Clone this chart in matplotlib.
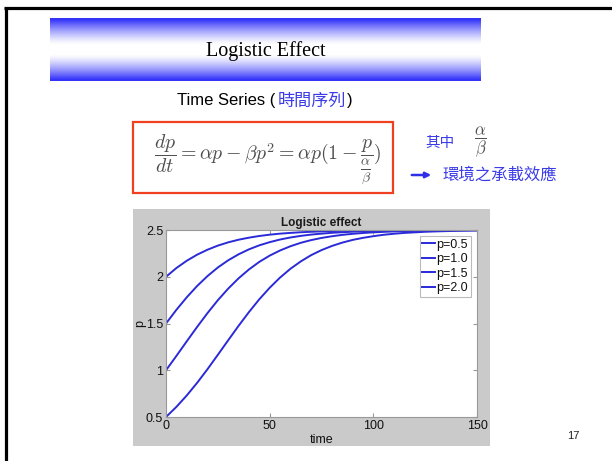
import numpy as np
import matplotlib
matplotlib.use("Agg")
import matplotlib.pyplot as plt
from matplotlib.patches import Rectangle, FancyArrowPatch
from matplotlib.lines import Line2D

plt.rcParams['mathtext.fontset'] = 'cm'

# ---- data -------------------------------------------------------------
time = [0, 5, 10, 15, 20, 25, 30, 35, 40, 45, 50, 55, 60, 65, 70, 75, 80,
        85, 90, 95, 100, 105, 110, 115, 120, 125, 130, 135, 140, 145, 150]

p_05 = [0.500, 0.608, 0.730, 0.865, 1.011, 1.165, 1.321, 1.475, 1.622, 1.759,
        1.882, 1.991, 2.085, 2.164, 2.231, 2.285, 2.329, 2.365, 2.394, 2.416,
        2.434, 2.449, 2.460, 2.469, 2.475, 2.481, 2.485, 2.488, 2.491, 2.493,
        2.495]
p_10 = [1.000, 1.153, 1.309, 1.463, 1.611, 1.749, 1.873, 1.983, 2.078, 2.159,
        2.226, 2.281, 2.326, 2.363, 2.392, 2.415, 2.433, 2.448, 2.459, 2.468,
        2.475, 2.480, 2.485, 2.488, 2.491, 2.493, 2.494, 2.496, 2.497, 2.497,
        2.498]
p_15 = [1.500, 1.646, 1.780, 1.901, 2.007, 2.099, 2.176, 2.240, 2.293, 2.336,
        2.370, 2.398, 2.420, 2.437, 2.451, 2.461, 2.470, 2.476, 2.482, 2.486,
        2.489, 2.491, 2.493, 2.495, 2.496, 2.497, 2.498, 2.498, 2.498, 2.499,
        2.499]
p_20 = [2.000, 2.093, 2.171, 2.236, 2.289, 2.333, 2.368, 2.396, 2.418, 2.436,
        2.450, 2.461, 2.469, 2.476, 2.481, 2.485, 2.489, 2.491, 2.493, 2.495,
        2.496, 2.497, 2.497, 2.498, 2.498, 2.499, 2.499, 2.499, 2.500, 2.500,
        2.500]

series = [p_05, p_10, p_15, p_20]
labels = ['p=0.5', 'p=1.0', 'p=1.5', 'p=2.0']
xticks = [0, 50, 100, 150]
yticks = [0.5, 1, 1.5, 2, 2.5]
ytick_labels = ['0.5', '1', '1.5', '2', '2.5']

# ---- figure -----------------------------------------------------------
W, H = 612, 461
fig = plt.figure(figsize=(W / 100, H / 100), dpi=100)
fig.patch.set_facecolor('white')


def fx(x):
    return x / W


def fy(y):
    return 1 - y / H


def box(x0, y0, x1, y1):
    return [fx(x0), fy(y1), fx(x1) - fx(x0), fy(y0) - fy(y1)]


# slide frame
fig.add_artist(Line2D([fx(4), fx(612)], [fy(8.5), fy(8.5)], color='black',
                      lw=2.3, transform=fig.transFigure, solid_capstyle='butt'))
fig.add_artist(Line2D([fx(5.5), fx(5.5)], [fy(7.5), fy(461)], color='black',
                      lw=2.3, transform=fig.transFigure, solid_capstyle='butt'))

# title banner with vertical blue-white-blue gradient
ban = fig.add_axes(box(50, 18, 481, 81))
ban.set_axis_off()
v = np.linspace(0, 1, 200)
b = np.clip(np.abs(2 * v - 1) * 1.25 - 0.2, 0, 1) ** 1.3
blue = np.array([0.20, 0.20, 0.98])
grad = (1 - b)[:, None] * np.ones(3) + b[:, None] * blue
ban.imshow(np.repeat(grad[:, None, :], 2, axis=1), aspect='auto',
           extent=[0, 1, 0, 1], interpolation='bilinear')
ban.set_xlim(0, 1)
ban.set_ylim(0, 1)
ban.text(0.5, 0.47, 'Logistic Effect', ha='center', va='center',
         fontsize=14.5, family='Liberation Serif', color='black')

# subtitle with mixed colours
renderer = fig.canvas.get_renderer()
cjk = ['Noto Sans CJK TC', 'DejaVu Sans']
t1 = fig.text(fx(177), fy(101), 'Time Series (', ha='left', va='center',
              fontsize=12, family='Liberation Sans', color='black')
x_next = t1.get_window_extent(renderer).x1 + 2
t2 = fig.text(x_next / W, fy(101), '時間序列', ha='left', va='center',
              fontsize=12.3, family=cjk, color='#3b3be8')
x_next = t2.get_window_extent(renderer).x1 + 1
fig.text(x_next / W, fy(101), ')', ha='left', va='center',
         fontsize=12, family='Liberation Sans', color='black')

# equation box
fig.add_artist(Rectangle((fx(133), fy(193)), fx(393) - fx(133),
                         fy(122) - fy(193), transform=fig.transFigure,
                         fill=False, edgecolor='#f04020', lw=1.6))
fig.text(fx(268), fy(160),
         r'$\dfrac{dp}{dt} = \alpha p - \beta p^2 = \alpha p(1 - \dfrac{p}{\frac{\alpha}{\beta}})$',
         ha='center', va='center', fontsize=14.3, color='#4f4f4f')

# side note
fig.text(fx(425), fy(143), '其中', ha='left', va='center', fontsize=10.5,
         family=cjk, color='#3b3be8')
fig.text(fx(480), fy(142), r'$\dfrac{\alpha}{\beta}$', ha='center',
         va='center', fontsize=12, color='#4f4f4f')
fig.add_artist(FancyArrowPatch((fx(409), fy(175)), (fx(434), fy(175)),
                               transform=fig.transFigure, arrowstyle='-|>',
                               mutation_scale=8, color='#2f2fe8', lw=1.8))
fig.text(fx(443), fy(175), '環境之承載效應', ha='left', va='center',
         fontsize=11.8, family=cjk, color='#3b3be8')

# page number
fig.text(fx(573), fy(436), '17', ha='center', va='center', fontsize=8,
         family='Liberation Sans', color='#222222')

# chart panel background
fig.add_artist(Rectangle((fx(133), fy(446)), fx(490) - fx(133),
                         fy(209) - fy(446), transform=fig.transFigure,
                         facecolor='#cacaca', edgecolor='none', zorder=0))

ax = fig.add_axes(box(166, 230, 477, 417))
ax.set_zorder(2)
ax.set_facecolor('white')
for s in series:
    ax.plot(time, s, color='#2a2ad8', lw=1.4)
ax.set_xlim(0, 150)
ax.set_ylim(0.5, 2.5)
ax.set_xticks(xticks)
ax.set_yticks(yticks)
ax.set_yticklabels(ytick_labels)
ax.tick_params(direction='in', length=3, top=True, right=True,
               labelsize=9, colors='#999999', labelcolor='#111111', pad=2)
for lab in ax.get_xticklabels() + ax.get_yticklabels():
    lab.set_family('Liberation Sans')
for sp in ax.spines.values():
    sp.set_color('#999999')
    sp.set_linewidth(0.8)
ax.set_title('Logistic effect', fontsize=8.5, family='Liberation Sans',
             fontweight='bold', color='#1a1a1a', pad=3)
ax.set_xlabel('time', fontsize=9, family='Liberation Sans', color='#111111',
              labelpad=1.5)
ax.set_ylabel('p', fontsize=9, family='Liberation Sans', color='#111111',
              labelpad=0)
leg = ax.legend(labels, loc='upper right', fontsize=9, handlelength=1.0,
                handletextpad=0.15, labelspacing=0.2, borderpad=0.2,
                borderaxespad=0.5, frameon=True, fancybox=False)
leg.get_frame().set_edgecolor('#aaaaaa')
leg.get_frame().set_linewidth(0.8)
for t in leg.get_texts():
    t.set_family('Liberation Sans')
    t.set_color('#111111')

fig.savefig('out.png', dpi=100)
